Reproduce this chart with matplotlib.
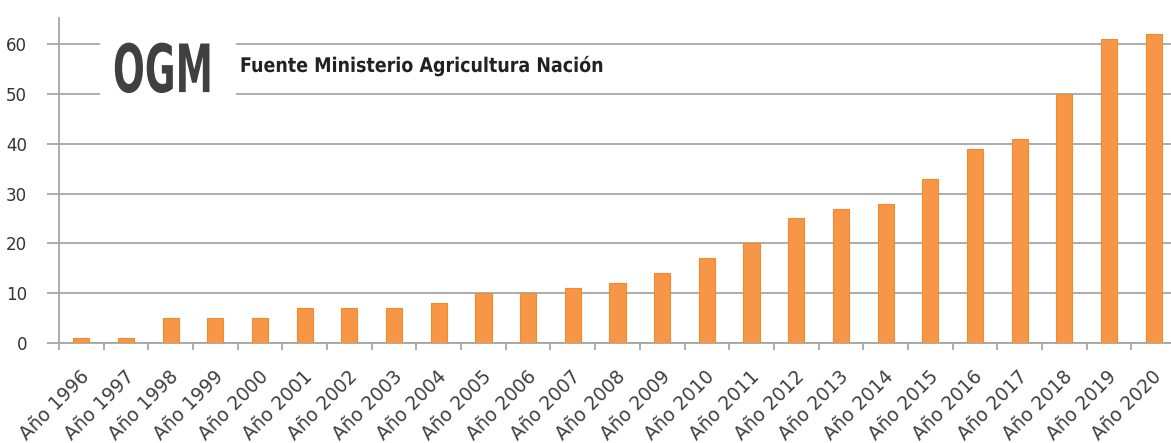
import matplotlib
matplotlib.use("Agg")
import matplotlib.pyplot as plt
from matplotlib.patches import Rectangle
from matplotlib.patheffects import AbstractPathEffect
from matplotlib.text import Text
from matplotlib.transforms import Affine2D, Bbox, ScaledTranslation
import numpy as np

# Data
years = [str(y) for y in range(1996, 2021)]
labels = ["Año " + y for y in years]
values = [1, 1, 5, 5, 5, 7, 7, 7, 8, 10, 10, 11, 12, 14, 17, 20,
          25, 27, 28, 33, 39, 41, 50, 61, 62]
yticks = [0, 10, 20, 30, 40, 50, 60]

title_text = "OGM"
source_text = "Fuente Ministerio Agricultura Nación"

BAR = "#F79646"
BAR_EDGE = "#F28A2F"
GRID = "#A6A6A6"
TEXT = "#404040"


class _Stretch(AbstractPathEffect):
    def __init__(self, owner):
        super().__init__()
        self.owner = owner

    def draw_path(self, renderer, gc, tpath, affine, rgbFace=None):
        renderer.draw_path(gc, tpath, affine + self.owner.stretch_transform(), rgbFace)


class CondensedText(Text):
    """Text anchored at its left baseline, drawn with its glyphs scaled by (sx, sy)
    to imitate a tall condensed face."""

    def __init__(self, *args, sx=1.0, sy=1.0, **kwargs):
        super().__init__(*args, **kwargs)
        self.sx, self.sy = sx, sy
        self.set_path_effects([_Stretch(self)])

    def _anchor(self):
        return self.get_transform().transform(self.get_position())

    def stretch_transform(self):
        x0, y0 = self._anchor()
        return (Affine2D().translate(-x0, -y0).scale(self.sx, self.sy)
                .translate(x0, y0))

    def get_window_extent(self, renderer=None, dpi=None):
        bb = super().get_window_extent(renderer, dpi)
        x0, y0 = self._anchor()
        return Bbox.from_extents(x0 + (bb.x0 - x0) * self.sx, y0 + (bb.y0 - y0) * self.sy,
                                 x0 + (bb.x1 - x0) * self.sx, y0 + (bb.y1 - y0) * self.sy)


fig = plt.figure(figsize=(11.71, 4.43), dpi=100)
ax = fig.add_axes([59 / 1171, 100 / 443, 1117 / 1171, 325 / 443])

x = np.arange(len(values))
ax.bar(x, values, width=0.36, color=BAR, edgecolor=BAR_EDGE, linewidth=0.8, zorder=3)

ax.set_xlim(-0.5, len(values) - 0.5)
ax.set_ylim(0, 65.25)

ax.set_yticks(yticks)
ax.set_yticklabels([str(v) for v in yticks])
ax.yaxis.grid(True, color=GRID, linewidth=1.3, zorder=0)
ax.set_axisbelow(True)

ax.set_xticks(x)
ax.set_xticklabels(labels, rotation=45, ha="right", va="center", rotation_mode="anchor")
ax.set_xticks(np.arange(-0.5, len(values), 1.0), minor=True)
ax.tick_params(axis="x", which="major", length=0, pad=22, labelsize=13.5, labelcolor=TEXT)
ax.tick_params(axis="x", which="minor", length=5, width=1.3, color=GRID, direction="out")
ax.tick_params(axis="y", which="major", length=9, width=1.3, color=GRID, pad=14,
               labelsize=12, labelcolor="#333333")
shift = ScaledTranslation(5 / 100, 0, fig.dpi_scale_trans)
for lab in ax.get_xticklabels():
    lab.set_transform(lab.get_transform() + shift)

for side in ("top", "right"):
    ax.spines[side].set_visible(False)
for side in ("left", "bottom"):
    ax.spines[side].set_color(GRID)
    ax.spines[side].set_linewidth(1.3)
ax.spines["left"].set_zorder(4)

# White panel behind the title, interrupting the grid lines
ax.add_patch(Rectangle((0.0365, 0.70), 0.122, 0.29, transform=ax.transAxes,
                       facecolor="white", edgecolor="none", zorder=2))

t1 = CondensedText(0.0483, 0.772, title_text, sx=0.9, sy=1.6, transform=ax.transAxes,
                   ha="left", va="baseline", fontsize=30, fontweight="bold",
                   color=TEXT, zorder=5)
ax.add_artist(t1)

t2 = CondensedText(0.162, 0.834, source_text, sx=1.0, sy=1.15, transform=ax.transAxes,
                   ha="left", va="baseline", fontsize=12.6, fontweight="bold",
                   color="#222222", zorder=5)
ax.add_artist(t2)

fig.savefig("out.png", dpi=100)
